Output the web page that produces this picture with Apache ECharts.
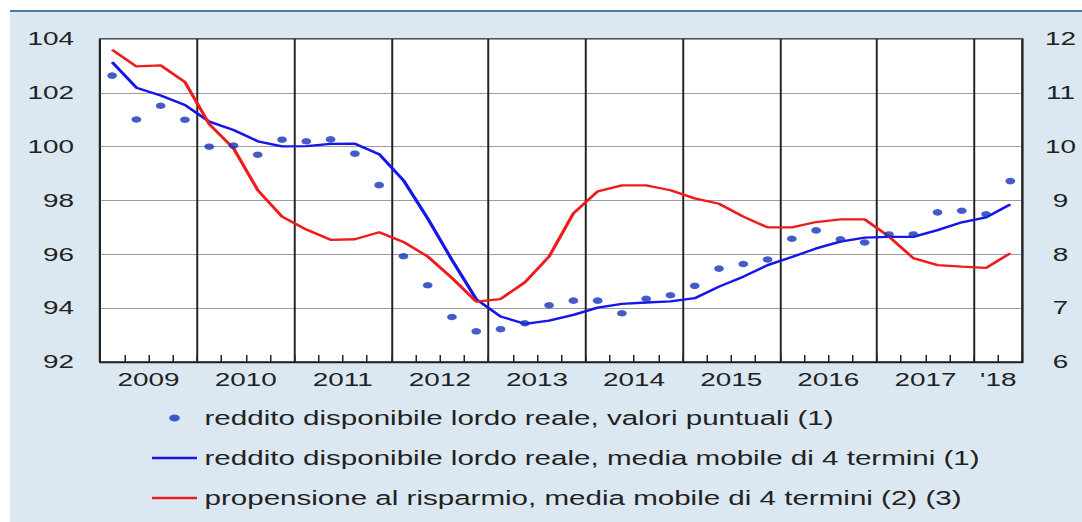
<!DOCTYPE html>
<html>
<head>
<meta charset="utf-8">
<script src="https://cdn.jsdelivr.net/npm/echarts@6/dist/echarts.min.js"></script>
<style>
  html, body { margin: 0; padding: 0; background: #fff; }
  #wrap { position: relative; width: 1082px; height: 522px; overflow: hidden; background: #fff; }
  #bg { position: absolute; left: 10px; top: 10px; right: 0; bottom: 0; background: #dce8f1; border-top: 2px solid #4c7c99; }
  /* the reference is stretched horizontally: draw narrow, then widen */
  #chart { position: absolute; left: 0; top: 0; width: 721.33px; height: 522px; transform: scaleX(1.5); transform-origin: 0 0; }
</style>
</head>
<body>
<div id="wrap">
  <div id="bg"></div>
  <div id="chart"></div>
</div>
<script>
// --- dati (trimestrali, 2009 T1 - 2018 T2) ---
const quarters = [
  '2009 T1', '2009 T2', '2009 T3', '2009 T4',
  '2010 T1', '2010 T2', '2010 T3', '2010 T4',
  '2011 T1', '2011 T2', '2011 T3', '2011 T4',
  '2012 T1', '2012 T2', '2012 T3', '2012 T4',
  '2013 T1', '2013 T2', '2013 T3', '2013 T4',
  '2014 T1', '2014 T2', '2014 T3', '2014 T4',
  '2015 T1', '2015 T2', '2015 T3', '2015 T4',
  '2016 T1', '2016 T2', '2016 T3', '2016 T4',
  '2017 T1', '2017 T2', '2017 T3', '2017 T4',
  '2018 T1', '2018 T2'
];
const yearLabels = ['2009', '2010', '2011', '2012', '2013', '2014', '2015', '2016', '2017', "'18"];
const quartersPerYear = [4, 4, 4, 4, 4, 4, 4, 4, 4, 2];

// reddito disponibile lordo reale, valori puntuali (asse sinistro)
const redditoPuntuale = [
  102.64, 101.01, 101.52, 101.00,
  100.00, 100.04, 99.70, 100.26,
  100.20, 100.27, 99.74, 98.57,
  95.93, 94.85, 93.67, 93.14,
  93.22, 93.44, 94.11, 94.28,
  94.28, 93.81, 94.35, 94.48,
  94.83, 95.47, 95.64, 95.81,
  96.58, 96.89, 96.56, 96.44,
  96.74, 96.74, 97.56, 97.62,
  97.49, 98.72
];
// reddito disponibile lordo reale, media mobile di 4 termini (asse sinistro)
const redditoMedia = [
  103.14, 102.19, 101.90, 101.55,
  100.93, 100.62, 100.20, 100.01,
  100.02, 100.10, 100.11, 99.72,
  98.75, 97.33, 95.79, 94.33,
  93.69, 93.42, 93.54, 93.75,
  94.02, 94.16, 94.21, 94.25,
  94.37, 94.80, 95.17, 95.60,
  95.90, 96.22, 96.47, 96.62,
  96.65, 96.65, 96.90, 97.19,
  97.37, 97.86
];
// propensione al risparmio, media mobile di 4 termini (asse destro)
const propensione = [
  11.80, 11.49, 11.51, 11.20,
  10.42, 9.97, 9.19, 8.70,
  8.46, 8.27, 8.28, 8.41,
  8.23, 7.96, 7.56, 7.12,
  7.17, 7.48, 7.96, 8.76,
  9.17, 9.28, 9.28, 9.19,
  9.04, 8.94, 8.70, 8.50,
  8.50, 8.60, 8.65, 8.65,
  8.33, 7.93, 7.80, 7.77,
  7.75, 8.02
];
const seriesNames = [
  'reddito disponibile lordo reale, valori puntuali (1)',
  'reddito disponibile lordo reale, media mobile di 4 termini (1)',
  'propensione al risparmio, media mobile di 4 termini (2) (3)'
];

// --- posizioni delle etichette degli anni e delle linee di separazione ---
const yearStart = new Set();
const labelAt = {};
let pos = 0;
quartersPerYear.forEach((n, i) => {
  yearStart.add(pos);
  labelAt[pos + n / 2] = yearLabels[i];
  pos += n;
});

const S = 1.5;              // horizontal stretch
const W = 1082 / S;
const font = 'Liberation Sans, Arial, Helvetica, sans-serif';
const lineIcon = 'path://M0,0H30V2.4H0Z';

const chart = echarts.init(document.getElementById('chart'), null, { renderer: 'svg' });

chart.setOption({
  animation: false,
  backgroundColor: 'transparent',
  textStyle: { fontFamily: font },
  grid: {
    left: 100 / S, right: W - 1023 / S, top: 39, bottom: 160,
    show: true, backgroundColor: '#fff', borderColor: '#222', borderWidth: 1.3
  },
  legend: {
    orient: 'vertical',
    left: 152 / S, top: 408, padding: 0,
    itemWidth: 30, itemHeight: 7, itemGap: 20,
    textStyle: { fontFamily: font, fontSize: 19.7, color: '#222', lineHeight: 20 },
    data: [
      { name: seriesNames[0], icon: 'circle' },
      { name: seriesNames[1], icon: lineIcon },
      { name: seriesNames[2], icon: lineIcon }
    ]
  },
  xAxis: [
    {
      type: 'category',
      data: quarters,
      boundaryGap: true,
      axisLine: { show: true, lineStyle: { color: '#222', width: 1.3 } },
      axisTick: { show: true, inside: true, length: 7, interval: 0, lineStyle: { color: '#222', width: 1 } },
      axisLabel: { show: false },
      splitLine: { show: true, interval: (i) => yearStart.has(i), lineStyle: { color: '#222', width: 1.3 } }
    },
    {
      // solo per le etichette degli anni, centrate sull'anno
      type: 'value',
      position: 'bottom',
      min: 0, max: quarters.length, interval: 1,
      axisLine: { show: false }, axisTick: { show: false }, splitLine: { show: false },
      axisLabel: {
        margin: 8, fontFamily: font, fontSize: 18.6, color: '#222',
        formatter: (v) => labelAt[v] || ''
      }
    }
  ],
  yAxis: [
    {
      type: 'value', position: 'left',
      min: 92, max: 104, interval: 2,
      axisLine: { show: false }, axisTick: { show: false },
      axisLabel: { margin: 17.3, fontFamily: font, fontSize: 18.6, color: '#222' },
      splitLine: { show: true, lineStyle: { color: '#9c9c9c', width: 1 } }
    },
    {
      type: 'value', position: 'right',
      min: 6, max: 12, interval: 1,
      axisLine: { show: false }, axisTick: { show: false },
      axisLabel: { margin: 25.3, align: 'center', fontFamily: font, fontSize: 18.6, color: '#222' },
      splitLine: { show: false }
    }
  ],
  series: [
    {
      name: seriesNames[0],
      type: 'scatter',
      xAxisIndex: 0, yAxisIndex: 0,
      data: redditoPuntuale,
      symbol: 'circle', symbolSize: 6.5,
      itemStyle: { color: '#1433bd' },
      z: 4
    },
    {
      name: seriesNames[1],
      type: 'line',
      xAxisIndex: 0, yAxisIndex: 0,
      data: redditoMedia,
      symbol: 'none',
      lineStyle: { color: '#1616e8', width: 2.3 },
      itemStyle: { color: '#1616e8' },
      z: 3
    },
    {
      name: seriesNames[2],
      type: 'line',
      xAxisIndex: 0, yAxisIndex: 1,
      data: propensione,
      symbol: 'none',
      lineStyle: { color: '#ee1c1c', width: 2.3 },
      itemStyle: { color: '#ee1c1c' },
      z: 3
    }
  ]
});
</script>
</body>
</html>
